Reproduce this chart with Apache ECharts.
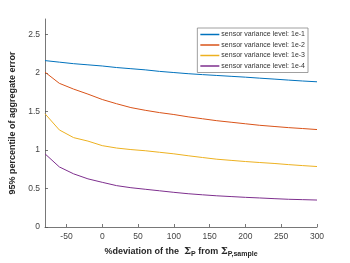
<!DOCTYPE html>
<html><head><meta charset="utf-8">
<script src="https://cdn.jsdelivr.net/npm/echarts@6/dist/echarts.min.js"></script>
<style>html,body{margin:0;padding:0;background:#fff}#c{width:350px;height:263px}</style>
</head><body><div id="c"></div>
<script>
const xValues = [-80,-60,-40,-20,0,20,40,60,80,100,120,140,160,180,200,220,240,260,280,300];
const level1 = [2.16,2.14,2.12,2.105,2.09,2.07,2.055,2.04,2.02,2.005,1.99,1.978,1.967,1.956,1.945,1.932,1.92,1.907,1.895,1.885];
const level2 = [2.01,1.865,1.79,1.725,1.655,1.60,1.55,1.515,1.485,1.46,1.43,1.405,1.38,1.36,1.34,1.32,1.305,1.29,1.278,1.265];
const level3 = [1.47,1.26,1.16,1.115,1.056,1.025,1.005,0.99,0.97,0.95,0.925,0.902,0.88,0.865,0.85,0.837,0.825,0.81,0.797,0.785];
const level4 = [0.95,0.78,0.69,0.625,0.58,0.537,0.51,0.49,0.47,0.45,0.432,0.418,0.405,0.395,0.385,0.377,0.368,0.36,0.355,0.35];
const seriesNames = ['sensor variance level: 1e-1','sensor variance level: 1e-2','sensor variance level: 1e-3','sensor variance level: 1e-4'];
const colors = ['#0072BD','#D95319','#EDB120','#7E2F8E'];
const xTicks = [-50,0,50,100,150,200,250,300];
const yTicks = [0,0.5,1,1.5,2,2.5];
const allData = [level1,level2,level3,level4];

const chart = echarts.init(document.getElementById('c'), null, {renderer:'canvas'});
const font = 'Liberation Sans, Arial, sans-serif';
chart.setOption({
  animation:false,
  color: colors,
  grid:{left:45,right:33,top:19,bottom:32,containLabel:false},
  legend:{
    orient:'vertical', right:42, top:28, itemWidth:19, itemHeight:1.5, itemGap:3.5,
    padding:[3,3,3,3], borderColor:'#888', borderWidth:0.8, backgroundColor:'#fff',
    icon:'rect',
    textStyle:{fontFamily:font,fontSize:7,color:'#333',padding:[0,0,0,-3]},
    data: seriesNames
  },
  xAxis:{
    type:'value', min:-80, max:300,
    axisLine:{show:true,onZero:false,lineStyle:{color:'#555',width:0.8}},
    axisTick:{show:true,inside:true,length:3,lineStyle:{color:'#555',width:0.8},customValues:xTicks},
    axisLabel:{fontFamily:font,fontSize:8.5,color:'#444',margin:5,customValues:xTicks},
    splitLine:{show:false},
    name:'x', nameLocation:'middle', nameGap:18,
    nameTextStyle:{fontFamily:font,fontSize:9,fontWeight:'bold',color:'#262626',
      rich:{
        t:{fontFamily:font,fontSize:9,fontWeight:'bold',color:'#262626'},
        s:{fontFamily:'DejaVu Serif, serif',fontSize:10,fontWeight:'bold',color:'#262626'},
        sub:{fontFamily:font,fontSize:7,fontWeight:'bold',color:'#262626',verticalAlign:'bottom',padding:[6,0,0,0]}
      }}
  },
  yAxis:{
    type:'value', min:0, max:2.7,
    axisLine:{show:true,onZero:false,lineStyle:{color:'#555',width:0.8}},
    axisTick:{show:true,inside:true,length:3,lineStyle:{color:'#555',width:0.8},customValues:yTicks},
    axisLabel:{fontFamily:font,fontSize:8.5,color:'#444',margin:5,customValues:yTicks},
    splitLine:{show:false},
    name:'95% percentile of aggregate error', nameLocation:'middle', nameGap:23,
    nameTextStyle:{fontFamily:font,fontSize:9,fontWeight:'bold',color:'#262626'}
  },
  series: allData.map((d,i)=>({
    name:seriesNames[i], type:'line', showSymbol:false, symbol:'none',
    lineStyle:{width:1,color:colors[i]}, itemStyle:{color:colors[i]},
    data: xValues.map((x,j)=>[x,d[j]])
  }))
});
chart.setOption({xAxis:{name:'{t|%deviation of the  }{s|Σ}{sub|P}{t| from }{s|Σ}{sub|P,sample}'}});
</script></body></html>
